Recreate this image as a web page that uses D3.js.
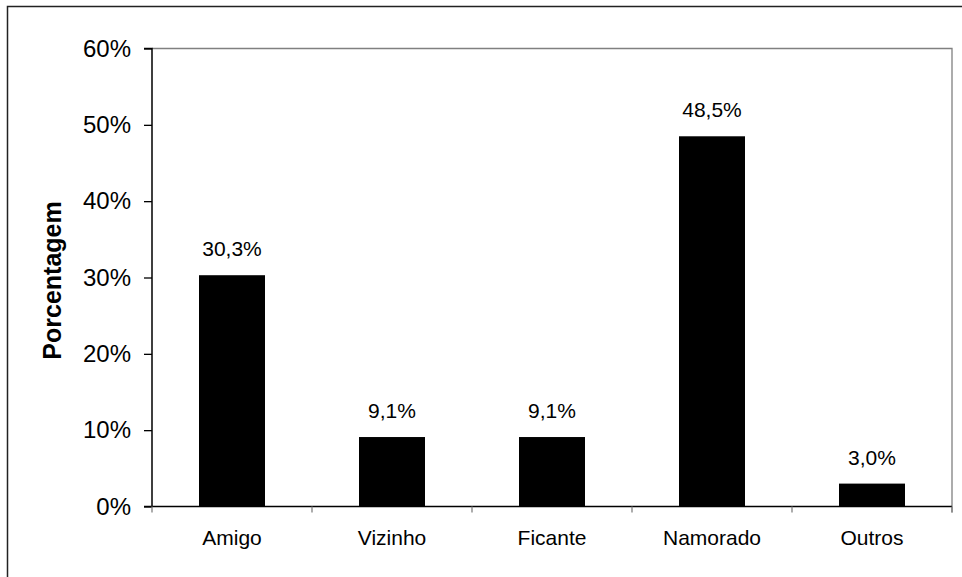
<!DOCTYPE html>
<html>
<head>
<meta charset="utf-8">
<script src="https://cdn.jsdelivr.net/npm/d3@7"></script>
<style>
  html, body { margin: 0; padding: 0; background: #fff; }
  svg { display: block; }
  text { font-family: Arial, "Liberation Sans", sans-serif; fill: #000; }
</style>
</head>
<body>
<svg id="chart" width="962" height="577"></svg>
<script>
// Relationship categories and their shares (%)
const categories = ["Amigo", "Vizinho", "Ficante", "Namorado", "Outros"];
const values = [30.3, 9.1, 9.1, 48.5, 3.0];
const valueLabels = ["30,3%", "9,1%", "9,1%", "48,5%", "3,0%"];
const yTicks = [0, 10, 20, 30, 40, 50, 60];
const yTickLabels = ["0%", "10%", "20%", "30%", "40%", "50%", "60%"];
const yTitle = "Porcentagem";

const svg = d3.select("#chart");
const W = 962, H = 577;
const plot = { left: 152, right: 952, top: 48.5, bottom: 506.5 };

// Outer chart border (runs off the right and bottom edges)
svg.append("rect")
  .attr("x", 7.5).attr("y", 6.5)
  .attr("width", W + 10).attr("height", H + 10)
  .attr("fill", "none").attr("stroke", "#222").attr("stroke-width", 1.5);

const x = d3.scaleBand()
  .domain(categories)
  .range([plot.left, plot.right])
  .paddingInner(0.5875)
  .paddingOuter(0.29375);

const y = d3.scaleLinear()
  .domain([0, 60])
  .range([plot.bottom, plot.top]);

// Plot area frame: grey top and right edges
svg.append("path")
  .attr("d", `M${plot.left},${plot.top}H${plot.right}V${plot.bottom + 6}`)
  .attr("fill", "none").attr("stroke", "#808080").attr("stroke-width", 1.3);

// Bars
svg.append("g").selectAll("rect")
  .data(values)
  .join("rect")
  .attr("x", (d, i) => x(categories[i]))
  .attr("y", d => y(d))
  .attr("width", x.bandwidth())
  .attr("height", d => y(0) - y(d))
  .attr("fill", "#000");

// Value labels above bars
svg.append("g").selectAll("text")
  .data(values)
  .join("text")
  .attr("x", (d, i) => x(categories[i]) + x.bandwidth() / 2)
  .attr("y", d => y(d) - 19)
  .attr("text-anchor", "middle")
  .attr("font-size", 21)
  .text((d, i) => valueLabels[i]);

// Y axis
const yAxis = d3.axisLeft(y)
  .tickValues(yTicks)
  .tickFormat((d, i) => yTickLabels[i])
  .tickSize(8)
  .tickPadding(13);

const gy = svg.append("g")
  .attr("transform", `translate(${plot.left},0)`)
  .call(yAxis);
gy.select(".domain").attr("stroke", "#000").attr("stroke-width", 1.5)
  .attr("d", `M-8,${plot.top}H0V${plot.bottom}H-8`);
gy.selectAll(".tick line").attr("stroke", "#000").attr("stroke-width", 1.3);
gy.selectAll(".tick text")
  .attr("font-size", 24)
  .attr("font-family", "Arial, 'Liberation Sans', sans-serif")
  .attr("fill", "#000");

// X axis: baseline with tick marks on category boundaries
const step = x.step();
const boundaries = d3.range(categories.length + 1).map(i => plot.left + i * step);
svg.append("line")
  .attr("x1", plot.left).attr("x2", plot.right)
  .attr("y1", plot.bottom).attr("y2", plot.bottom)
  .attr("stroke", "#000").attr("stroke-width", 1.5);
svg.append("g").selectAll("line")
  .data(boundaries)
  .join("line")
  .attr("x1", d => d).attr("x2", d => d)
  .attr("y1", plot.bottom).attr("y2", plot.bottom + 6)
  .attr("stroke", "#808080").attr("stroke-width", 1.3);

svg.append("g").selectAll("text")
  .data(categories)
  .join("text")
  .attr("x", d => x(d) + x.bandwidth() / 2)
  .attr("y", 545)
  .attr("text-anchor", "middle")
  .attr("font-size", 21)
  .text(d => d);

// Y axis title
svg.append("text")
  .attr("transform", `translate(61,${(plot.top + plot.bottom) / 2 + 3}) rotate(-90)`)
  .attr("text-anchor", "middle")
  .attr("font-size", 25)
  .attr("font-weight", "bold")
  .text(yTitle);
</script>
</body>
</html>
